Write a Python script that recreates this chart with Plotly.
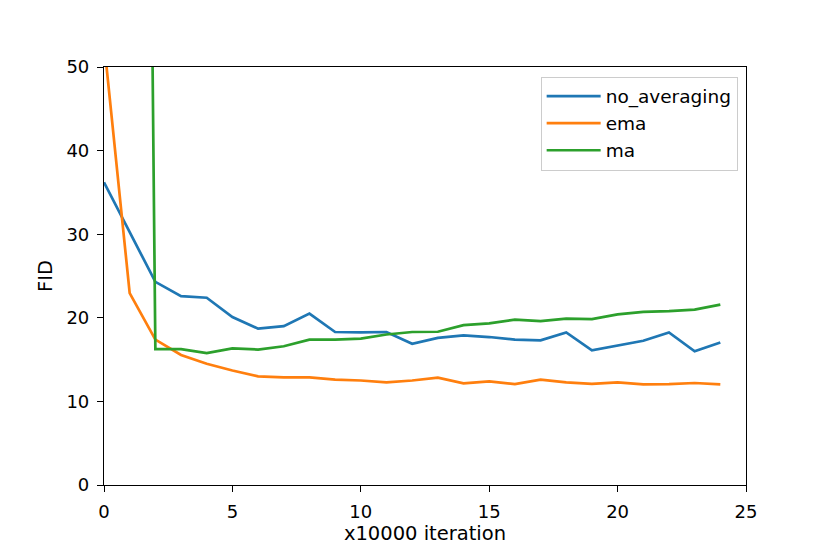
import plotly.graph_objects as go

# x axis: checkpoints in units of 10000 iterations
steps = list(range(25))

no_averaging = [36.2, 30.3, 24.3, 22.6, 22.4, 20.1, 18.7, 19.0, 20.5, 18.3,
                18.25, 18.3, 16.9, 17.6, 17.9, 17.7, 17.4, 17.3, 18.25, 16.1,
                16.7, 17.25, 18.25, 16.0, 17.05]
ema = [53.0, 22.95, 17.4, 15.55, 14.5, 13.7, 13.0, 12.87, 12.87, 12.6,
       12.5, 12.27, 12.5, 12.83, 12.15, 12.4, 12.07, 12.6, 12.27, 12.1,
       12.27, 12.03, 12.07, 12.2, 12.03]
ma = [400.0, 330.0, 16.26, 16.26, 15.78, 16.34, 16.2, 16.6, 17.38, 17.38,
      17.5, 18.0, 18.3, 18.33, 19.13, 19.33, 19.77, 19.6, 19.9, 19.85,
      20.4, 20.7, 20.8, 20.97, 21.57]

series = [("no_averaging", no_averaging, "#1f77b4"),
          ("ema", ema, "#ff7f0e"),
          ("ma", ma, "#2ca02c")]

fig = go.Figure()
for name, vals, color in series:
    fig.add_trace(go.Scatter(x=steps, y=vals, mode="lines", name=name,
                             line=dict(color=color, width=2.7)))

axis_style = dict(showgrid=False, zeroline=False, showline=True, mirror=True,
                  linecolor="black", linewidth=1.2, ticks="outside",
                  ticklen=6, tickwidth=1.2, tickcolor="black",
                  ticklabelstandoff=4,
                  tickfont=dict(size=18, color="black"))

fig.update_xaxes(range=[0, 25], tickvals=[0, 5, 10, 15, 20, 25],
                 title=dict(text="x10000 iteration", font=dict(size=19.5, color="black"),
                            standoff=4),
                 **axis_style)
fig.update_yaxes(range=[0, 50], tickvals=[0, 10, 20, 30, 40, 50],
                 title=dict(text="FID", font=dict(size=19.5, color="black"),
                            standoff=8),
                 **axis_style)

# page body has an 8px margin, so shift everything up/left by that much
fig.update_layout(
    width=830, height=554,
    margin=dict(l=95.5, r=91.5, t=58.6, b=77.4),
    paper_bgcolor="white", plot_bgcolor="white",
    font=dict(family="DejaVu Sans", size=18, color="black"),
    legend=dict(x=0.987, y=0.977, xanchor="right", yanchor="top",
                bordercolor="#cccccc", borderwidth=1, bgcolor="white",
                font=dict(size=18.5), tracegroupgap=2,
                entrywidth=150, itemwidth=54),
)

fig.write_html("out.html")
